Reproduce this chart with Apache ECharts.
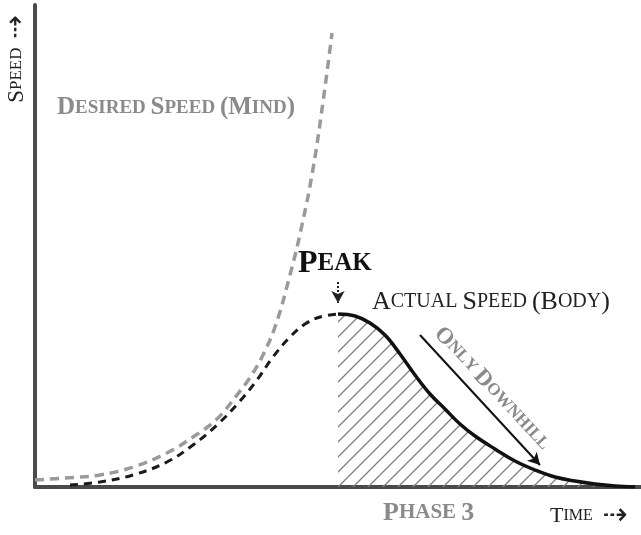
<!DOCTYPE html>
<html>
<head>
<meta charset="utf-8">
<script src="https://cdn.jsdelivr.net/npm/echarts@6/dist/echarts.min.js"></script>
<style>
html, body { margin: 0; padding: 0; background: #fff; }
#main { width: 641px; height: 535px; }
</style>
</head>
<body>
<div id="main"></div>
<script>
// conceptual curves (x = time, y = speed, in plot pixels)
var desiredSpeed = [[0, 7], [30, 9], [65, 12], [98, 20], [132, 34], [158, 50], [182, 68], [202, 92],
    [214, 108], [226, 128], [240, 160], [255, 212], [267, 262], [278, 318], [288, 385], [297, 454]];
var actualRise = [[35, 2], [65, 5], [98, 12], [132, 25], [158, 42], [182, 62], [205, 86], [222, 107],
    [238, 130], [255, 150], [270, 163], [285, 170], [303, 173]];
var actualFall = [[303, 173], [320, 171], [335, 164], [350, 152], [365, 133], [380, 112], [395, 93],
    [410, 78], [425, 63], [440, 51], [460, 38], [480, 26], [500, 17], [520, 10], [540, 6], [560, 3],
    [580, 1], [600, 0]];
var peakArrow = [[303, 205], [303, 184]];
var downhillArrow = [[385, 152], [505, 22]];

var serif = '"Liberation Serif", "DejaVu Serif", serif';

// fake small caps with rich text: capitals big, lower case letters small
function smallCaps(s) {
    var out = '';
    for (var i = 0; i < s.length; i++) {
        var c = s.charAt(i);
        if (c >= 'a' && c <= 'z') out += '{s|' + c.toUpperCase() + '}';
        else if (c === ' ') out += '{s| }';
        else out += '{L|' + c + '}';
    }
    return out;
}
function capsRich(big, small, color, weight, arrow) {
    return {
        L: { fontSize: big, fontFamily: serif, fontWeight: weight, fill: color, color: color },
        s: { fontSize: small, fontFamily: serif, fontWeight: weight, fill: color, color: color },
        ar: { fontSize: arrow || small, fontFamily: '"DejaVu Sans"', fill: color, color: color }
    };
}

// hatch tile for the area under the falling curve
var tile = document.createElement('canvas');
tile.width = 15; tile.height = 15;
var g = tile.getContext('2d');
g.strokeStyle = '#7f7f7f';
g.lineWidth = 1.3;
g.beginPath();
g.moveTo(-1, 16); g.lineTo(16, -1);
g.moveTo(-2, 2); g.lineTo(2, -2);
g.moveTo(13, 17); g.lineTo(17, 13);
g.stroke();

var myChart = echarts.init(document.getElementById('main'));
var option = {
    animation: false,
    backgroundColor: '#fff',
    grid: { left: 35, right: 0, top: 5, bottom: 48 },
    xAxis: {
        type: 'value', min: 0, max: 606,
        axisLine: { lineStyle: { color: '#4a4a4a', width: 4 } },
        axisTick: { show: false }, axisLabel: { show: false }, splitLine: { show: false }
    },
    yAxis: {
        type: 'value', min: 0, max: 482,
        axisLine: { show: true, lineStyle: { color: '#4a4a4a', width: 4 } },
        axisTick: { show: false }, axisLabel: { show: false }, splitLine: { show: false }
    },
    series: [
        {
            type: 'line', data: actualFall, smooth: 0.4, showSymbol: false, z: 3,
            lineStyle: { color: '#111', width: 3.5 },
            areaStyle: { color: { image: tile, repeat: 'repeat' }, opacity: 1 },
            markLine: {
                silent: true,
                symbol: ['none', 'arrow'],
                symbolSize: [10, 12],
                data: [
                    [{ coord: peakArrow[0], lineStyle: { color: '#222', width: 2, type: [2, 2] },
                       label: { show: false } },
                     { coord: peakArrow[1] }],
                    [{ coord: downhillArrow[0], lineStyle: { color: '#111', width: 2, type: 'solid' },
                       label: {
                           show: true, position: 'insideMiddleTop', distance: 5,
                           formatter: smallCaps('Only Downhill'),
                           rich: capsRich(23, 17, '#8a8a8a', 'bold')
                       } },
                     { coord: downhillArrow[1] }]
                ]
            }
        },
        {
            type: 'line', data: actualRise, smooth: 0.4, showSymbol: false, z: 2,
            lineStyle: { color: '#1a1a1a', width: 3, type: [8, 6] }
        },
        {
            type: 'line', data: desiredSpeed, smooth: 0.4, showSymbol: false, z: 2,
            lineStyle: { color: '#9a9a9a', width: 3.5, type: [9, 6] }
        }
    ],
    graphic: [
        { type: 'text', x: 17, y: 59, rotation: Math.PI / 2,
          style: { text: smallCaps('Speed') + '{ar| ⇢}', rich: capsRich(23, 17, '#222', 'normal', 28),
                   align: 'center', verticalAlign: 'middle' } },
        { type: 'text', x: 57, y: 108,
          style: { text: smallCaps('Desired Speed (Mind)'), rich: capsRich(25, 19, '#8a8a8a', 'bold'),
                   align: 'left', verticalAlign: 'middle' } },
        { type: 'text', x: 298, y: 264,
          style: { text: smallCaps('Peak'), rich: capsRich(32, 25, '#111', 'bold'),
                   align: 'left', verticalAlign: 'middle' } },
        { type: 'text', x: 372, y: 302,
          style: { text: smallCaps('Actual Speed (Body)'), rich: capsRich(26, 20, '#222', 'normal'),
                   align: 'left', verticalAlign: 'middle' } },
        { type: 'text', x: 383, y: 513,
          style: { text: smallCaps('Phase 3'), rich: capsRich(26, 21, '#8a8a8a', 'bold'),
                   align: 'left', verticalAlign: 'middle' } },
        { type: 'text', x: 550, y: 516,
          style: { text: smallCaps('Time') + '{ar| ⇢}', rich: capsRich(22, 16, '#222', 'normal', 30),
                   align: 'left', verticalAlign: 'middle' } }
    ]
};
myChart.setOption(option);
</script>
</body>
</html>
